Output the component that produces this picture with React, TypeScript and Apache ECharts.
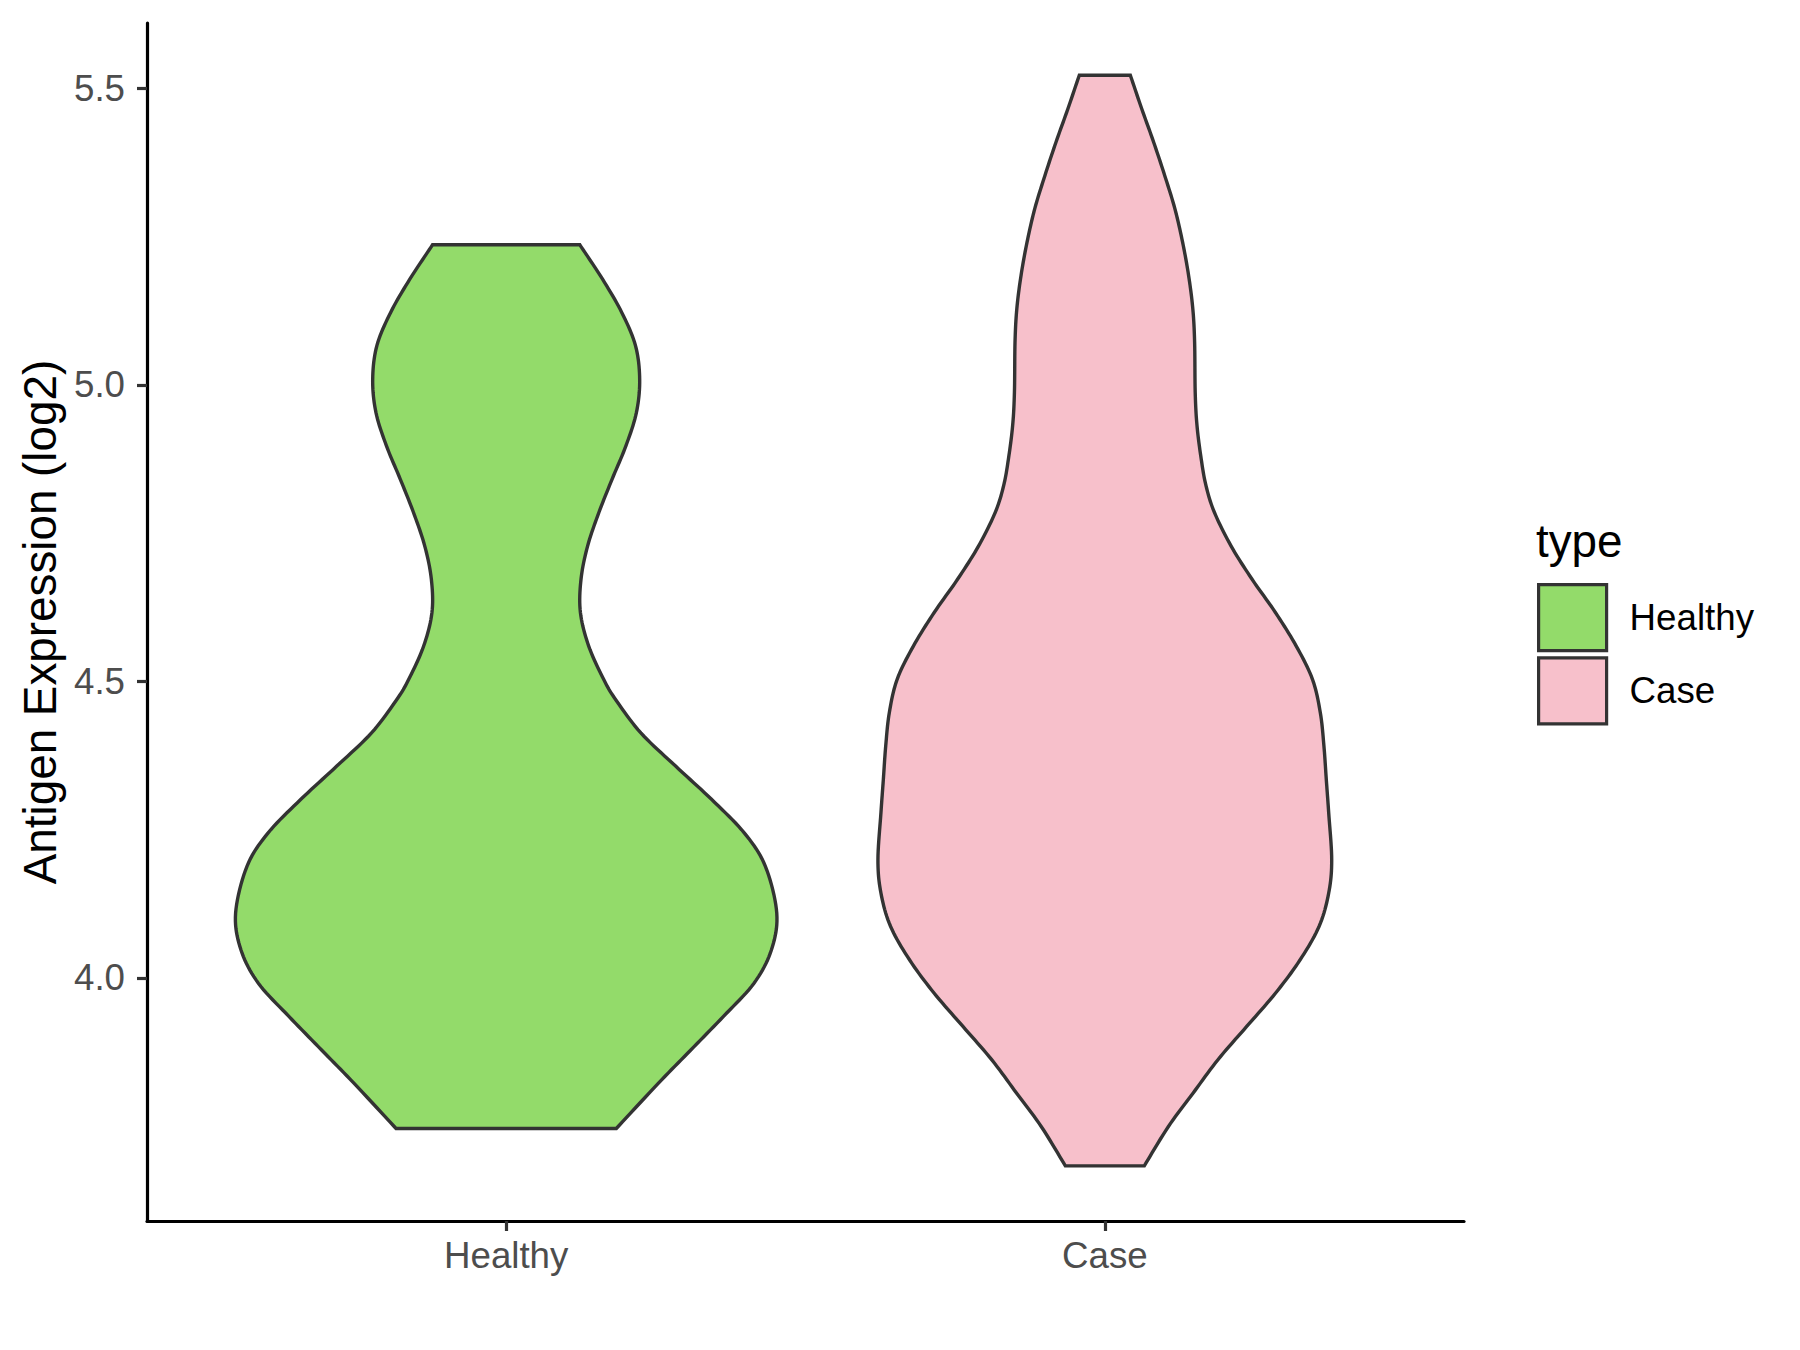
import React, { useEffect, useRef } from "react";
import * as echarts from "echarts";

const categories = ["Healthy", "Case"];
const yTicks = [4.0, 4.5, 5.0, 5.5];

// Violin outlines: y value and half-width (in category units), top to bottom
const healthyValues = [5.236, 5.178, 5.122, 5.066, 5.009, 4.953, 4.897, 4.841, 4.785, 4.728, 4.672, 4.616, 4.559, 4.503, 4.469, 4.413, 4.357, 4.301, 4.244, 4.188, 4.109, 4.047, 3.991, 3.935, 3.878, 3.822, 3.746];
const healthyHalfWidths = [0.123, 0.161, 0.193, 0.216, 0.223, 0.2175, 0.2, 0.177, 0.155, 0.136, 0.125, 0.124, 0.138, 0.163, 0.183, 0.225, 0.283, 0.343, 0.398, 0.433, 0.452, 0.443, 0.414, 0.363, 0.308, 0.254, 0.184];

const caseValues = [5.522, 5.465, 5.409, 5.353, 5.297, 5.24, 5.184, 5.128, 5.072, 4.987, 4.931, 4.875, 4.83, 4.785, 4.728, 4.672, 4.616, 4.559, 4.503, 4.447, 4.391, 4.334, 4.278, 4.199, 4.143, 4.087, 4.03, 3.974, 3.918, 3.862, 3.805, 3.749, 3.683];
const caseHalfWidths = [0.0426, 0.0618, 0.0816, 0.1, 0.117, 0.13, 0.14, 0.147, 0.15, 0.151, 0.154, 0.161, 0.169, 0.183, 0.211, 0.246, 0.285, 0.32, 0.347, 0.36, 0.366, 0.37, 0.374, 0.379, 0.374, 0.358, 0.326, 0.285, 0.237, 0.189, 0.147, 0.106, 0.066];

const colors = ["#93DB6A", "#F7C0CB"];
const FONT = "'Liberation Sans', Arial, Helvetica, sans-serif";

function spline(pts: number[][]): number[][] {
  const out: number[][] = [];
  const n = pts.length;
  const steps = 10;
  for (let i = 0; i < n - 1; i++) {
    const p0 = pts[Math.max(0, i - 1)];
    const p1 = pts[i];
    const p2 = pts[i + 1];
    const p3 = pts[Math.min(n - 1, i + 2)];
    for (let s = 0; s < steps; s++) {
      const t = s / steps;
      const t2 = t * t;
      const t3 = t2 * t;
      const f = (a: number, b: number, c: number, d: number) =>
        0.5 * (2 * b + (-a + c) * t + (2 * a - 5 * b + 4 * c - d) * t2 + (-a + 3 * b - 3 * c + d) * t3);
      out.push([f(p0[0], p1[0], p2[0], p3[0]), f(p0[1], p1[1], p2[1], p3[1])]);
    }
  }
  out.push(pts[n - 1]);
  return out;
}

function makeRender(vals: number[], hws: number[], center: number, fill: string) {
  return (_params: any, api: any) => {
    const left = vals.map((v, i) => api.coord([center - hws[i], v]));
    const right = vals.map((v, i) => api.coord([center + hws[i], v]));
    const L = spline(left);
    const R = spline(right).reverse();
    return {
      type: "polygon",
      shape: { points: [...L, ...R] },
      style: { fill, stroke: "#333333", lineWidth: 3.4, lineJoin: "miter" },
    };
  };
}

export default function App() {
  const ref = useRef<HTMLDivElement>(null);
  useEffect(() => {
    if (!ref.current) return;
    const chart = echarts.init(ref.current, undefined, { renderer: "svg" });
    chart.setOption({
      animation: false,
      backgroundColor: "#ffffff",
      grid: { left: 147, top: 23, right: 336, bottom: 129, containLabel: false },
      xAxis: {
        type: "value",
        min: 0.4,
        max: 2.6,
        splitLine: { show: false },
        axisLine: { show: true, lineStyle: { color: "#000000", width: 3.2 } },
        axisTick: { show: true, length: 10, customValues: [1, 2], lineStyle: { color: "#333333", width: 3.2 } },
        axisLabel: {
          show: true,
          customValues: [1, 2],
          formatter: (v: number) => categories[Math.round(v) - 1] || "",
          color: "#4D4D4D",
          fontSize: 36.7,
          fontFamily: FONT,
          margin: 16,
        },
      },
      yAxis: {
        type: "value",
        min: 3.59,
        max: 5.61,
        splitLine: { show: false },
        name: "Antigen Expression (log2)",
        nameLocation: "middle",
        nameGap: 84,
        nameTextStyle: { color: "#000000", fontSize: 45.8, fontFamily: FONT },
        axisLine: { show: true, lineStyle: { color: "#000000", width: 3.2 } },
        axisTick: { show: true, length: 10, customValues: yTicks, lineStyle: { color: "#333333", width: 3.2 } },
        axisLabel: {
          show: true,
          customValues: yTicks,
          formatter: (v: number) => v.toFixed(1),
          color: "#4D4D4D",
          fontSize: 36.7,
          fontFamily: FONT,
          margin: 22,
        },
      },
      legend: {
        show: true,
        orient: "vertical",
        left: 1537,
        top: 583,
        padding: 0,
        itemWidth: 68,
        itemHeight: 66,
        itemGap: 4,
        data: [
          { name: categories[0], icon: "rect" },
          { name: categories[1], icon: "rect" },
        ],
        itemStyle: { borderColor: "#333333", borderWidth: 3.2 },
        textStyle: { color: "#000000", fontSize: 36.7, fontFamily: FONT, padding: [0, 0, 0, 18] },
        selectedMode: false,
      },
      graphic: [
        {
          type: "text",
          left: 1536,
          top: 518,
          style: { text: "type", fill: "#000000", fontSize: 45.8, fontFamily: FONT },
        },
      ],
      series: [
        {
          type: "custom",
          name: categories[0],
          coordinateSystem: "cartesian2d",
          itemStyle: { color: colors[0], borderColor: "#333333", borderWidth: 3.2 },
          renderItem: makeRender(healthyValues, healthyHalfWidths, 1, colors[0]),
          data: [[1, healthyValues[0]]],
          clip: false,
        },
        {
          type: "custom",
          name: categories[1],
          coordinateSystem: "cartesian2d",
          itemStyle: { color: colors[1], borderColor: "#333333", borderWidth: 3.2 },
          renderItem: makeRender(caseValues, caseHalfWidths, 2, colors[1]),
          data: [[2, caseValues[0]]],
          clip: false,
        },
      ],
    });
    return () => chart.dispose();
  }, []);
  return (
    <div
      ref={ref}
      style={{ position: "fixed", left: 0, top: 0, width: 1800, height: 1350, background: "#fff" }}
    />
  );
}
